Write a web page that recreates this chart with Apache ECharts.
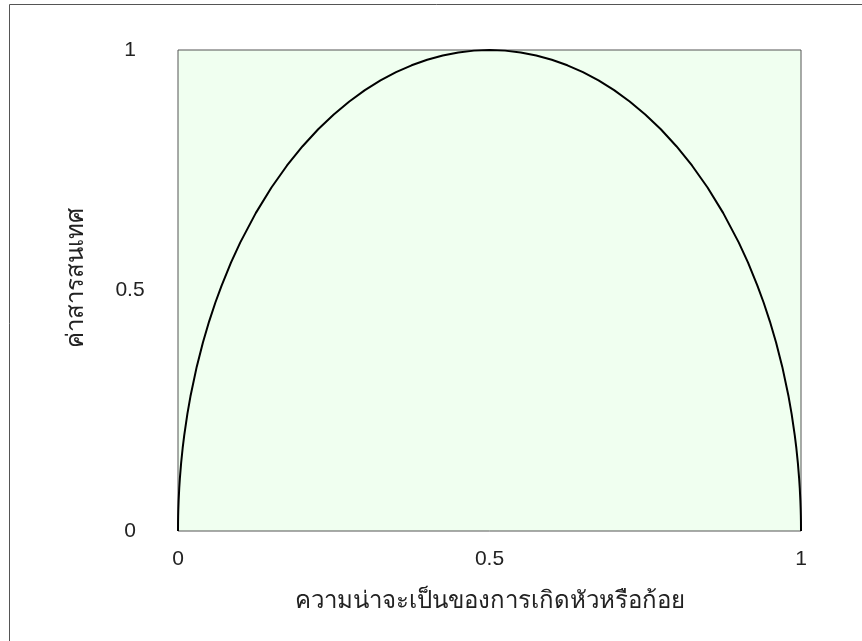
<!DOCTYPE html>
<html>
<head>
<meta charset="utf-8">
<script src="https://cdn.jsdelivr.net/npm/echarts@6/dist/echarts.min.js"></script>
<style>
  html, body { margin: 0; padding: 0; background: #fff; }
  #chart { width: 862px; height: 641px; }
</style>
</head>
<body>
<div id="chart"></div>
<script>
  // ความน่าจะเป็น (p) และค่าสารสนเทศ ที่อ่านจากภาพ
  var probValues = [0, 0.0001, 0.00025, 0.0005, 0.001, 0.002, 0.003, 0.005, 0.0075, 0.01, 0.015, 0.02, 0.03, 0.04, 0.05, 0.06, 0.07, 0.085,
    0.1, 0.125, 0.15, 0.175, 0.2, 0.225, 0.25, 0.275, 0.3, 0.325, 0.35, 0.375, 0.4, 0.425, 0.45, 0.475, 0.5,
    0.525, 0.55, 0.575, 0.6, 0.625, 0.65, 0.675, 0.7, 0.725, 0.75, 0.775, 0.8, 0.825, 0.85, 0.875, 0.9,
    0.915, 0.93, 0.94, 0.95, 0.96, 0.97, 0.98, 0.985, 0.99, 0.9925, 0.995, 0.997, 0.998, 0.999, 0.9995, 0.99975, 0.9999, 1];
  var infoValues = [0, 0.02, 0.0316, 0.0447, 0.0632, 0.0894, 0.1094, 0.1411, 0.1726, 0.199, 0.2431, 0.28, 0.3412, 0.3919, 0.4359, 0.475, 0.5103, 0.5578,
    0.6, 0.6614, 0.7141, 0.7599, 0.8, 0.8352, 0.866, 0.893, 0.9165, 0.9367, 0.9539, 0.9682, 0.9798, 0.9887, 0.995, 0.9987, 1,
    0.9987, 0.995, 0.9887, 0.9798, 0.9682, 0.9539, 0.9367, 0.9165, 0.893, 0.866, 0.8352, 0.8, 0.7599, 0.7141, 0.6614, 0.6,
    0.5578, 0.5103, 0.475, 0.4359, 0.3919, 0.3412, 0.28, 0.2431, 0.199, 0.1726, 0.1411, 0.1094, 0.0894, 0.0632, 0.0447, 0.0316, 0.02, 0];

  var seriesData = [];
  for (var i = 0; i < probValues.length; i++) {
    seriesData.push([probValues[i], infoValues[i]]);
  }

  var font = '"Liberation Sans", "Noto Sans", sans-serif';
  var textColor = '#222';

  var chart = echarts.init(document.getElementById('chart'));
  var option = {
    animation: false,
    textStyle: { fontFamily: font },
    graphic: [{
      type: 'rect',
      shape: { x: 9.5, y: 4.5, width: 900, height: 700 },
      style: { fill: 'none', stroke: '#555', lineWidth: 1 },
      silent: true
    }],
    grid: {
      left: 178,
      right: 61,
      top: 50,
      bottom: 110,
      show: true,
      backgroundColor: '#F0FFF0',
      borderColor: '#555',
      borderWidth: 1
    },
    xAxis: {
      type: 'value',
      min: 0,
      max: 1,
      interval: 0.5,
      name: 'ความน่าจะเป็นของการเกิดหัวหรือก้อย',
      nameLocation: 'middle',
      nameGap: 58,
      nameTextStyle: { fontSize: 24, color: textColor, fontFamily: font },
      axisLine: { show: false },
      axisTick: { show: false },
      splitLine: { show: false },
      axisLabel: { margin: 18, fontSize: 21, color: textColor, fontFamily: font }
    },
    yAxis: {
      type: 'value',
      min: 0,
      max: 1,
      interval: 0.5,
      name: 'ค่าสารสนเทศ',
      nameLocation: 'middle',
      nameGap: 90,
      nameRotate: 90,
      nameTextStyle: { fontSize: 24, color: textColor, fontFamily: font, padding: [0, 0, 0, 26] },
      axisLine: { show: false },
      axisTick: { show: false },
      splitLine: { show: false },
      axisLabel: { margin: 48, align: 'center', fontSize: 21, color: textColor, fontFamily: font }
    },
    series: [{
      type: 'line',
      data: seriesData,
      showSymbol: false,
      symbol: 'none',
      lineStyle: { color: '#000', width: 2 }
    }]
  };
  chart.setOption(option);
</script>
</body>
</html>
